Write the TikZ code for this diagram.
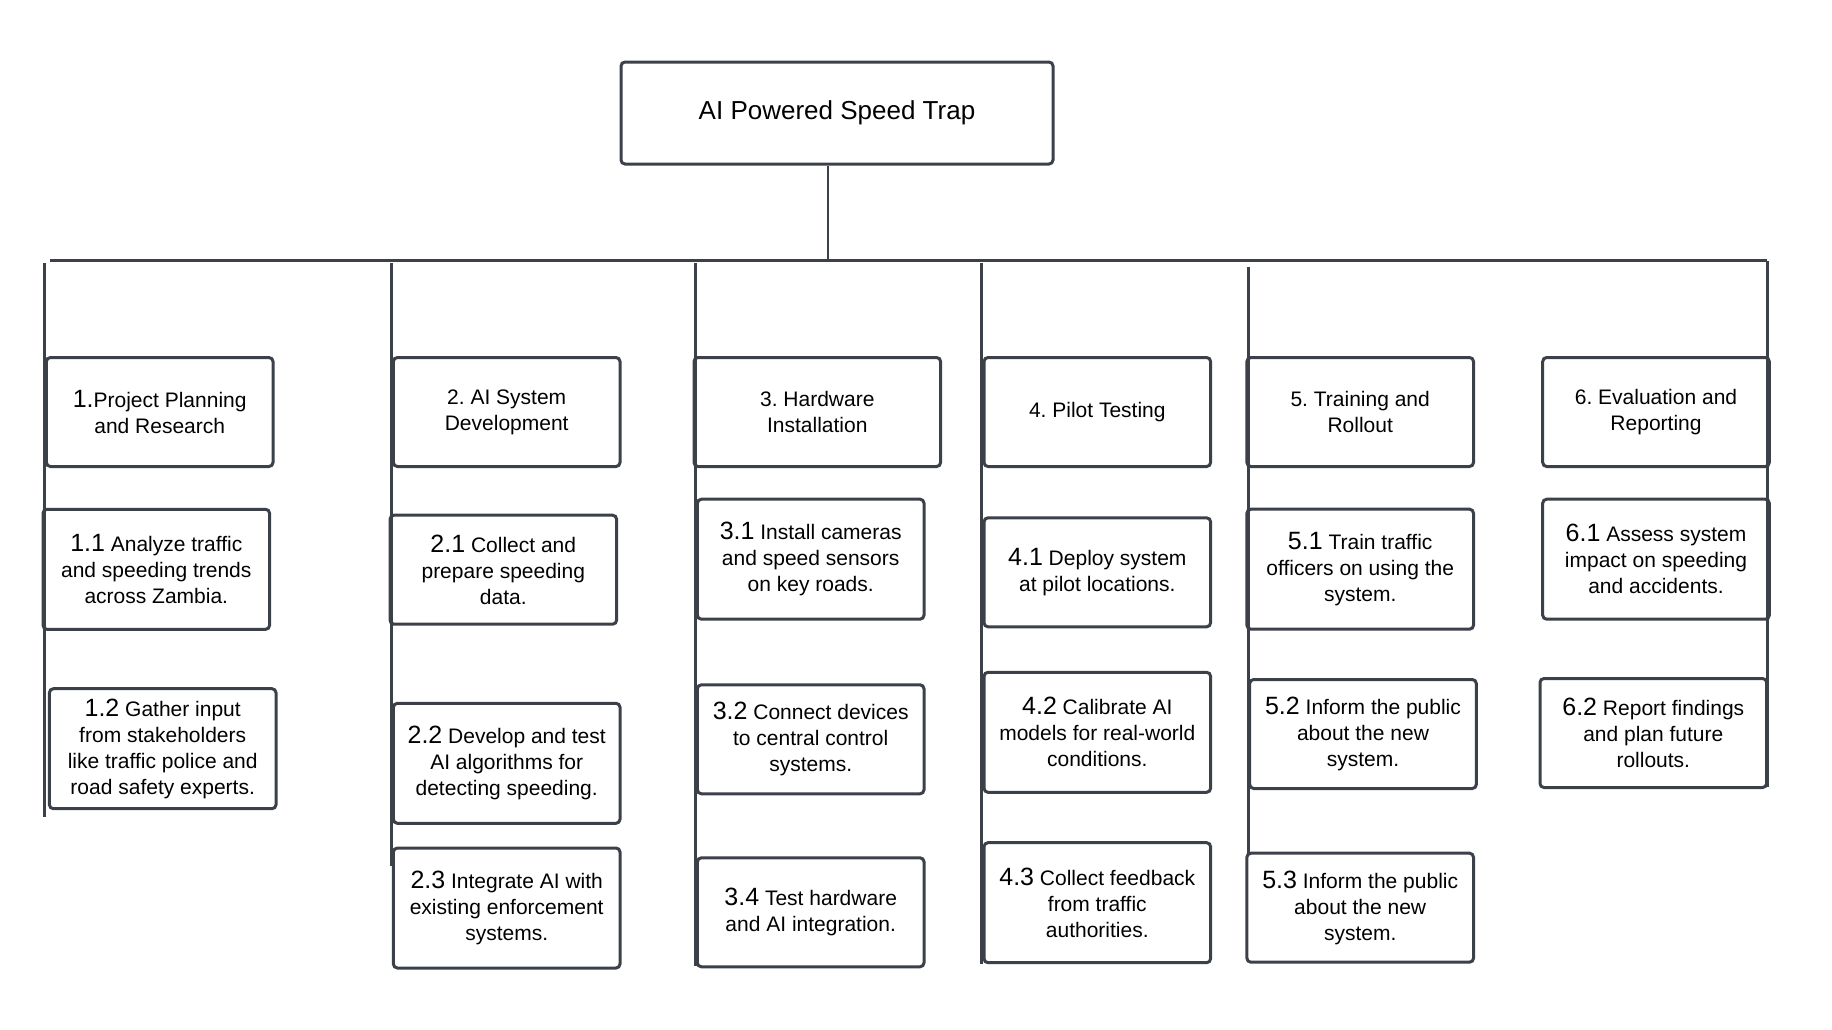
\documentclass[tikz,border=0pt]{standalone}
\usepackage{fontspec}
\setmainfont{Liberation Sans}
\frenchspacing
\definecolor{edge}{HTML}{3B4049}
\tikzstyle{box} = [rectangle, rounded corners=2pt, minimum width=113.3pt, minimum height=54.5pt, draw=edge, line width=1.5pt, align=center, inner sep=2pt, font=\fontsize{10.5}{13}\selectfont]
\tikzstyle{tall} = [box, minimum height=60pt]
\tikzstyle{line} = [draw=edge, line width=1.3pt]
\newcommand{\wbsno}[1]{{\fontsize{12.5}{13}\selectfont #1}}

\begin{document}
\begin{tikzpicture}[x=0.5pt, y=-0.5pt]
    \useasboundingbox (0,0) rectangle (1832,1029);

    \node (0) [box, minimum width=216pt, minimum height=51pt, font=\fontsize{13}{15}\selectfont] at (837,113) {AI Powered Speed Trap};

    \node (1) [box] at (159.7,412) {\wbsno{1.}Project Planning\\and Research};
    \node (2) [box] at (506.7,412) {2. AI System\\Development};
    \node (3) [box, minimum width=123.3pt] at (817.3,412) {3. Hardware\\Installation};
    \node (4) [box] at (1097.3,412) {4. Pilot Testing};
    \node (5) [box] at (1360.2,412) {5. Training and\\Rollout};
    \node (6) [box] at (1656,412) {6. Evaluation and\\Reporting};

    \node (11) [tall] at (156.3,569.3) {\wbsno{1.1} Analyze traffic\\and speeding trends\\across Zambia.};
    \node (12) [tall] at (162.7,748.7) {\wbsno{1.2} Gather input\\from stakeholders\\like traffic police and\\road safety experts.};

    \node (21) [box] at (503.3,569.7) {\wbsno{2.1} Collect and\\prepare speeding\\data.};
    \node (22) [tall] at (506.7,763.3) {\wbsno{2.2} Develop and test\\AI algorithms for\\detecting speeding.};
    \node (23) [tall] at (506.7,908) {\wbsno{2.3} Integrate AI with\\existing enforcement\\systems.};

    \node (31) [tall] at (810.7,559.2) {\wbsno{3.1} Install cameras\\and speed sensors\\on key roads.};
    \node (32) [box] at (810.7,739.3) {\wbsno{3.2} Connect devices\\to central control\\systems.};
    \node (34) [box] at (810.7,912.3) {\wbsno{3.4} Test hardware\\and AI integration.};

    \node (41) [box] at (1097.3,572.3) {\wbsno{4.1} Deploy system\\at pilot locations.};
    \node (42) [tall] at (1097.3,732.3) {\wbsno{4.2} Calibrate AI\\models for real-world\\conditions.};
    \node (43) [tall] at (1097.3,902.7) {\wbsno{4.3} Collect feedback\\from traffic\\authorities.};

    \node (51) [tall] at (1360.2,569.2) {\wbsno{5.1} Train traffic\\officers on using the\\system.};
    \node (52) [box] at (1363,734) {\wbsno{5.2} Inform the public\\about the new\\system.};
    \node (53) [box] at (1360.2,907.7) {\wbsno{5.3} Inform the public\\about the new\\system.};

    \node (61) [tall] at (1656,559.2) {\wbsno{6.1} Assess system\\impact on speeding\\and accidents.};
    \node (62) [box] at (1653.3,733) {\wbsno{6.2} Report findings\\and plan future\\rollouts.};

    % bus and drops
    \coordinate (t) at (828,260.7);
    \coordinate (l) at (50,260.7);
    \coordinate (r) at (1767,260.7);
    \coordinate (c1) at (44.3,263);
    \coordinate (d1) at (44.3,817.3);
    \coordinate (c2) at (391.3,263);
    \coordinate (d2) at (391.3,865.7);
    \coordinate (c3) at (695.3,263);
    \coordinate (d3) at (695.3,966);
    \coordinate (c4) at (981.3,263);
    \coordinate (d4) at (981.3,964.3);
    \coordinate (c5) at (1248.3,267);
    \coordinate (d5) at (1248.3,854);
    \coordinate (c6) at (1767.3,260.7);
    \coordinate (d6) at (1767.3,787);

    \draw[line] (0.south -| t) -- (t);
    \draw[line] (l) -- (r);
    \draw[line] (c1) -- (d1);
    \draw[line] (c2) -- (d2);
    \draw[line] (c3) -- (d3);
    \draw[line] (c4) -- (d4);
    \draw[line] (c5) -- (d5);
    \draw[line] (c6) -- (d6);
\end{tikzpicture}
\end{document}
